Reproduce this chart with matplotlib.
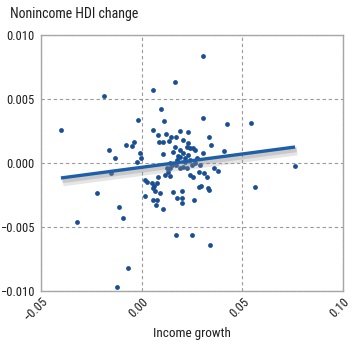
import matplotlib
matplotlib.use("Agg")
import matplotlib.pyplot as plt
import matplotlib.patheffects as pe
from matplotlib import font_manager

# ---- data ----
income_growth = [
    -0.0401, -0.0187, 0.0056, 0.0166, 0.0305, 0.0096, 0.0111, -0.0018, 0.0305, 0.0424,
    0.0543, -0.0222, -0.0113, -0.0093, -0.0321, -0.0068, -0.0122, -0.0152, 0.0762, 0.0563,
    0.0250, 0.0339, 0.0171, -0.0162, -0.0132, -0.0078, -0.0048, -0.0038, -0.0008, -0.0003,
    -0.0023, 0.0409, 0.0334, 0.0344, 0.0056, 0.0081, 0.0121, 0.0146, 0.0190, 0.0230,
    0.0086, 0.0106, 0.0136, 0.0171, 0.0106, 0.0166, 0.0156, 0.0190, 0.0205, 0.0180,
    0.0205, 0.0225, 0.0230, 0.0215, 0.0240, 0.0255, 0.0265, 0.0305, 0.0190, 0.0215,
    0.0205, 0.0190, 0.0141, 0.0151, 0.0141, 0.0131, 0.0116, 0.0240, 0.0265, 0.0225,
    0.0240, 0.0255, 0.0285, 0.0310, 0.0325, 0.0359, 0.0379, 0.0017, 0.0027, 0.0051,
    0.0061, 0.0076, 0.0056, 0.0066, 0.0081, 0.0017, 0.0056, 0.0076, 0.0071, 0.0091,
    0.0106, 0.0156, 0.0200, 0.0176, 0.0200, 0.0200, 0.0260, 0.0285, 0.0295, 0.0330,
    0.0334, 0.0126, 0.0141, 0.0176, 0.0230, 0.0250, 0.0275, 0.0171, 0.0290,
]
nonincome_hdi_change = [
    0.00258, 0.00523, 0.00570, 0.00633, 0.00836, 0.00422, 0.00328, 0.00336, 0.00352, 0.00305,
    0.00313, -0.00234, -0.00344, -0.00430, -0.00461, -0.00820, -0.00969, -0.00078, -0.00023, -0.00187,
    -0.00563, -0.00641, -0.00563, 0.00102, 0.00039, 0.00141, 0.00133, 0.00164, 0.00078, 0.00039,
    0.00008, 0.00094, 0.00203, 0.00141, 0.00258, 0.00219, 0.00227, 0.00203, 0.00250, 0.00242,
    0.00164, 0.00164, 0.00172, 0.00203, 0.00070, 0.00125, 0.00086, 0.00102, 0.00180, 0.00055,
    0.00078, 0.00125, 0.00156, 0.00039, 0.00117, 0.00117, 0.00102, 0.00078, 0.00047, 0.00008,
    -0.00031, -0.00039, 0.00000, -0.00016, -0.00039, -0.00070, -0.00094, 0.00023, 0.00000, -0.00039,
    -0.00094, -0.00109, -0.00070, -0.00078, -0.00109, -0.00039, -0.00063, -0.00133, -0.00148, -0.00156,
    -0.00180, -0.00156, -0.00195, -0.00219, -0.00109, -0.00258, -0.00289, -0.00289, -0.00328, -0.00234,
    -0.00359, -0.00227, -0.00219, -0.00273, -0.00273, -0.00313, -0.00289, -0.00188, -0.00180, -0.00195,
    -0.00211, -0.00039, -0.00102, 0.00023, 0.00063, -0.00016, 0.00039, -0.00016, -0.00016,
]
fit_x = [-0.0401, 0.0762]
fit_y = [-0.00117, 0.00125]

x_ticks = [-0.05, 0.00, 0.05, 0.10]
x_tick_labels = ["\u22120.05", "0.00", "0.05", "0.10"]
y_ticks = [-0.010, -0.005, 0.000, 0.005, 0.010]
y_tick_labels = ["\u22120.010", "\u22120.005", "0.000", "0.005", "0.010"]

title_text = "Nonincome HDI change"
x_label = "Income growth"

# ---- fonts: prefer a condensed sans ----
def pick_font():
    prefs = ["LiberationSansNarrow-Regular", "RobotoCondensed-Regular", "Roboto_Condensed",
             "OpenSans_Condensed-Regular", "OpenSansCondensed", "NotoSans-Condensed",
             "DejaVuSansCondensed.ttf", "Condensed", "Narrow"]
    files = [f.fname for f in font_manager.fontManager.ttflist]
    for p in prefs:
        for fn in files:
            base = fn.split("/")[-1]
            if p in base and "Bold" not in base and "Oblique" not in base and "Italic" not in base:
                return font_manager.FontProperties(fname=fn)
    return font_manager.FontProperties(family="DejaVu Sans", stretch="condensed")

fp = pick_font()

def F(size):
    f = fp.copy()
    f.set_size(size)
    return f

DOT = "#1a4f93"
LINE = "#1f5fa8"
TXT = "#1e1e1e"

fig = plt.figure(figsize=(3.55, 3.44), dpi=100)
ax = fig.add_axes([41 / 355, 1 - 291 / 344, 302 / 355, 256 / 344])

ax.set_xlim(-0.05, 0.10)
ax.set_ylim(-0.010, 0.010)
ax.set_xticks(x_ticks)
ax.set_xticklabels(x_tick_labels, rotation=45, ha="right", va="top",
                   rotation_mode="anchor", fontproperties=F(9), color=TXT)
ax.set_yticks(y_ticks)
ax.set_yticklabels(y_tick_labels, fontproperties=F(9), color=TXT)
ax.tick_params(axis="y", length=0, pad=5)
ax.tick_params(axis="x", length=0, pad=3)

for s in ax.spines.values():
    s.set_color("#a6a6a6")
    s.set_linewidth(1.0)

ax.grid(True, color="#9a9a9a", linestyle=(0, (3, 2.5)), linewidth=0.8)
ax.set_axisbelow(True)

ax.scatter(income_growth, nonincome_hdi_change, s=12, color=DOT, zorder=3, linewidths=0)

ax.plot(fit_x, fit_y, color=LINE, linewidth=2.4, solid_capstyle="butt", zorder=4,
        path_effects=[pe.SimpleLineShadow(offset=(1.5, -3), shadow_color="#999999", alpha=0.25,
                                          linewidth=6),
                      pe.SimpleLineShadow(offset=(1.0, -2), shadow_color="#777777", alpha=0.25,
                                          linewidth=3.5),
                      pe.Normal()])

ax.set_xlabel(x_label, fontproperties=F(9.5), color=TXT, labelpad=2)
fig.text(10 / 355, 1 - 14 / 344, title_text, fontproperties=F(10), color=TXT,
         ha="left", va="center")

fig.savefig("out.png", dpi=100)
